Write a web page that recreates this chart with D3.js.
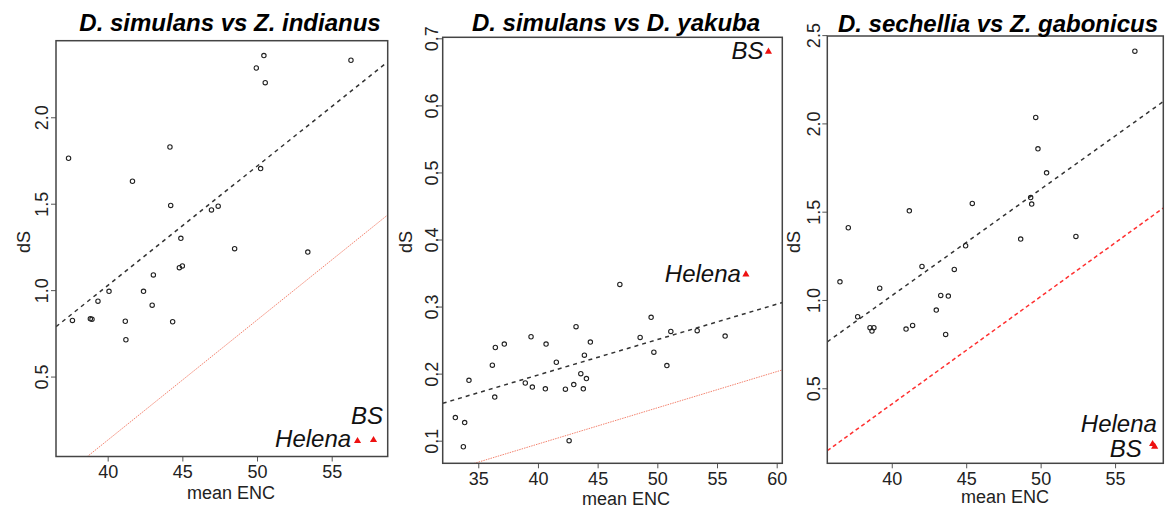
<!DOCTYPE html>
<html>
<head>
<meta charset="utf-8">
<script src="https://cdn.jsdelivr.net/npm/d3@7"></script>
<style>
    body { margin: 0; background: #fff; }
    text { font-family: "Liberation Sans", Arial, sans-serif; }
</style>
</head>
<body>
<script>

// mean ENC / dS per gene, one pair of arrays per comparison
var encSimInd = [37.38, 41.66, 44.17, 44.22, 44.9, 46.95, 47.4, 48.5, 49.95, 50.46, 50.55, 50.24, 53.4, 56.29,
    44.8, 45.0, 43.06, 40.09, 42.4, 39.35, 42.98, 37.64, 38.84, 38.95, 41.18, 44.35, 41.22];
var dsSimInd = [1.763, 1.63, 1.828, 1.49, 1.30, 1.464, 1.486, 1.24, 2.285, 2.357, 2.20, 1.703, 1.22, 2.33,
    1.13, 1.14, 1.088, 0.993, 0.993, 0.936, 0.913, 0.825, 0.834, 0.832, 0.82, 0.817, 0.713];

var encSimYak = [46.86, 49.48, 43.19, 51.13, 53.34, 55.68, 48.56, 39.42, 37.18, 36.43, 40.68, 44.39, 49.71, 43.89,
    41.54, 36.18, 50.8, 43.59, 44.06, 34.22, 38.94, 43.0, 39.53, 40.62, 42.3, 43.8, 36.38, 33.08, 33.86, 33.75, 42.61];
var dsSimYak = [0.333, 0.284, 0.270, 0.263, 0.264, 0.256, 0.254, 0.255, 0.244, 0.239, 0.244, 0.247, 0.232, 0.2275,
    0.217, 0.2126, 0.212, 0.200, 0.1926, 0.190, 0.186, 0.1837, 0.180, 0.1773, 0.1768, 0.1773, 0.165, 0.1345, 0.127, 0.091, 0.100];

var encSecGab = [56.33, 49.67, 49.82, 50.4, 49.33, 49.4, 45.41, 41.18, 37.08, 44.96, 48.66, 52.37,
    36.52, 42.03, 44.2, 39.19, 43.29, 43.8, 42.99, 37.71, 38.54, 38.8, 38.67, 40.96, 41.4, 43.62];
var dsSecGab = [2.409, 2.034, 1.856, 1.72, 1.58, 1.543, 1.547, 1.505, 1.409, 1.307, 1.345, 1.36,
    1.103, 1.19, 1.173, 1.067, 1.026, 1.022, 0.943, 0.905, 0.843, 0.843, 0.824, 0.835, 0.856, 0.805];

// the two highlighted genes (Helena, BS)
var hlEncSimInd = [56.73, 57.8];
var hlDsSimInd = [0.127, 0.133];
var hlEncSimYak = [57.42, 59.31];
var hlDsSimYak = [0.348, 0.68];
var hlEncSecGab = [57.52, 57.66];
var hlDsSecGab = [0.184, 0.169];

// label anchors (right end, baseline) in data units
var labelNames = ["Helena", "BS"];
var labelEncSimInd = [56.3, 58.44];
var labelDsSimInd = [0.094, 0.227];
var labelEncSimYak = [57.0, 58.89];
var labelDsSimYak = [0.337, 0.669];
var labelEncSecGab = [57.81, 56.79];
var labelDsSecGab = [0.252, 0.113];

// fitted lines: [intercept, slope] for all genes and for the highlighted offset line
var fitSimInd = [-1.733, 0.069];
var fit2SimInd = [-2.648, 0.0695];
var fitSimYak = [-0.0133, 0.00528];
var fit2SimYak = [-0.121, 0.0054];
var fitSecGab = [-1.388, 0.0603];
var fit2SecGab = [-2.026, 0.0609];

// axis ranges and ticks
var xDomSimInd = [36.54, 58.75], yDomSimInd = [0.0376, 2.443];
var xDomSimYak = [32.02, 60.47], yDomSimYak = [0.0663, 0.7015];
var xDomSecGab = [35.67, 58.24], yDomSecGab = [0.075, 2.495];
var xTicksSimInd = [40, 45, 50, 55], yTicksSimInd = [0.5, 1.0, 1.5, 2.0];
var xTicksSimYak = [35, 40, 45, 50, 55, 60], yTicksSimYak = [0.1, 0.2, 0.3, 0.4, 0.5, 0.6, 0.7];
var xTicksSecGab = [40, 45, 50, 55], yTicksSecGab = [0.5, 1.0, 1.5, 2.0, 2.5];

var titles = ["D. simulans vs Z. indianus", "D. simulans vs D. yakuba", "D. sechellia vs Z. gabonicus"];

var panels = [
    { title: titles[0], enc: encSimInd, ds: dsSimInd, hlEnc: hlEncSimInd, hlDs: hlDsSimInd,
      labEnc: labelEncSimInd, labDs: labelDsSimInd, fit: fitSimInd, fit2: fit2SimInd,
      xDom: xDomSimInd, yDom: yDomSimInd, xTicks: xTicksSimInd, yTicks: yTicksSimInd,
      left: 56, right: 387.7, top: 40.7, bottom: 456.5, titleX: 230, titleY: 30.5,
      dsX: 30, encX: 231, encY: 499, yGap: 8, red: "dotted" },
    { title: titles[1], enc: encSimYak, ds: dsSimYak, hlEnc: hlEncSimYak, hlDs: hlDsSimYak,
      labEnc: labelEncSimYak, labDs: labelDsSimYak, fit: fitSimYak, fit2: fit2SimYak,
      xDom: xDomSimYak, yDom: yDomSimYak, xTicks: xTicksSimYak, yTicks: yTicksSimYak,
      left: 442.7, right: 782.3, top: 37.3, bottom: 463.3, titleX: 616, titleY: 30.5,
      dsX: 412, encX: 626, encY: 505, yGap: 5, red: "dotted" },
    { title: titles[2], enc: encSecGab, ds: dsSecGab, hlEnc: hlEncSecGab, hlDs: hlDsSecGab,
      labEnc: labelEncSecGab, labDs: labelDsSecGab, fit: fitSecGab, fit2: fit2SecGab,
      xDom: xDomSecGab, yDom: yDomSecGab, xTicks: xTicksSecGab, yTicks: yTicksSecGab,
      left: 827.3, right: 1163.3, top: 36, bottom: 463.3, titleX: 998, titleY: 32,
      dsX: 800, encX: 1005, encY: 503, yGap: 7, red: "dashed" }
];

var svg = d3.select("body").append("svg")
    .attr("width", 1167)
    .attr("height", 509);

panels.forEach(function (p, k) {

    var x = d3.scaleLinear().domain(p.xDom).range([p.left, p.right]);
    var y = d3.scaleLinear().domain(p.yDom).range([p.bottom, p.top]);

    var clipId = "clip" + k;
    svg.append("clipPath").attr("id", clipId)
        .append("rect")
        .attr("x", p.left).attr("y", p.top)
        .attr("width", p.right - p.left).attr("height", p.bottom - p.top);

    var g = svg.append("g");
    var plot = g.append("g").attr("clip-path", "url(#" + clipId + ")");

    // regression lines across the whole plot region
    function fitLine(f) {
        return [[p.xDom[0], f[0] + f[1] * p.xDom[0]], [p.xDom[1], f[0] + f[1] * p.xDom[1]]];
    }
    var line = d3.line().x(function (d) { return x(d[0]); }).y(function (d) { return y(d[1]); });

    plot.append("path")
        .attr("d", line(fitLine(p.fit2)))
        .attr("fill", "none")
        .attr("stroke", p.red == "dashed" ? "#ff3030" : "#f2826e")
        .attr("stroke-width", p.red == "dashed" ? 1.5 : 1)
        .attr("stroke-dasharray", p.red == "dashed" ? "4,3" : "1.5,1");

    plot.append("path")
        .attr("d", line(fitLine(p.fit)))
        .attr("fill", "none")
        .attr("stroke", "#333")
        .attr("stroke-width", 1.5)
        .attr("stroke-dasharray", "4,4");

    // genes
    plot.selectAll("circle.gene")
        .data(p.enc)
        .enter()
        .append("circle")
        .attr("class", "gene")
        .attr("cx", function (d) { return x(d); })
        .attr("cy", function (d, i) { return y(p.ds[i]); })
        .attr("r", 2.2)
        .attr("fill", "none")
        .attr("stroke", "#222")
        .attr("stroke-width", 1.1);

    // highlighted genes
    plot.selectAll("path.hl")
        .data(p.hlEnc)
        .enter()
        .append("path")
        .attr("class", "hl")
        .attr("d", d3.symbol().type(d3.symbolTriangle).size(22))
        .attr("transform", function (d, i) { return "translate(" + x(d) + "," + y(p.hlDs[i]) + ")"; })
        .attr("fill", "#ee1111");

    g.selectAll("text.lab")
        .data(labelNames)
        .enter()
        .append("text")
        .attr("class", "lab")
        .attr("x", function (d, i) { return x(p.labEnc[i]); })
        .attr("y", function (d, i) { return y(p.labDs[i]); })
        .attr("text-anchor", "end")
        .style("font-size", "24px")
        .style("font-style", "italic")
        .attr("fill", "#111")
        .text(function (d) { return d; });

    // axes
    var xAxis = g.append("g")
        .attr("transform", "translate(0," + p.bottom + ")")
        .call(d3.axisBottom(x).tickValues(p.xTicks).tickSize(5).tickPadding(4).tickFormat(d3.format("d")));

    var yAxis = g.append("g")
        .attr("transform", "translate(" + p.left + ",0)")
        .call(d3.axisLeft(y).tickValues(p.yTicks).tickSize(5).tickFormat(d3.format(".1f")));

    [xAxis, yAxis].forEach(function (a) {
        a.select(".domain").remove();
        a.selectAll("line").attr("stroke", "#555");
        a.selectAll("text").style("font-size", "18px").attr("fill", "#222");
    });

    yAxis.selectAll("text")
        .attr("transform", "rotate(-90)")
        .attr("text-anchor", "middle")
        .attr("x", 0)
        .attr("y", -p.yGap)
        .attr("dy", 0);

    // box
    g.append("rect")
        .attr("x", p.left).attr("y", p.top)
        .attr("width", p.right - p.left).attr("height", p.bottom - p.top)
        .attr("fill", "none")
        .attr("stroke", "#444")
        .attr("stroke-width", 1.5);

    // titles and axis labels
    g.append("text")
        .attr("x", p.titleX).attr("y", p.titleY)
        .attr("text-anchor", "middle")
        .style("font-size", "24px")
        .style("font-weight", "bold")
        .style("font-style", "italic")
        .text(p.title);

    g.append("text")
        .attr("transform", "translate(" + p.dsX + ",242) rotate(-90)")
        .attr("text-anchor", "middle")
        .style("font-size", "18px")
        .attr("fill", "#222")
        .text("dS");

    g.append("text")
        .attr("x", p.encX).attr("y", p.encY)
        .attr("text-anchor", "middle")
        .style("font-size", "18px")
        .attr("fill", "#222")
        .text("mean ENC");
});

</script>
</body>
</html>
